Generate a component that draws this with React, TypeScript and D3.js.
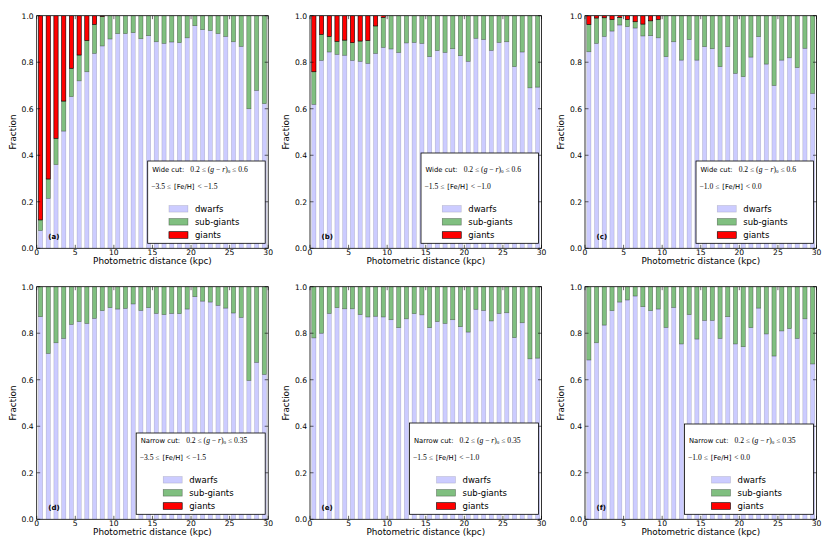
import React from 'react';
import * as d3 from 'd3';

// bin centres (kpc)
const distance = [0.5, 1.5, 2.5, 3.5, 4.5, 5.5, 6.5, 7.5, 8.5, 9.5, 10.5, 11.5, 12.5, 13.5, 14.5, 15.5, 16.5, 17.5, 18.5, 19.5, 20.5, 21.5, 22.5, 23.5, 24.5, 25.5, 26.5, 27.5, 28.5, 29.5];

// (a) wide cut, -3.5 <= [Fe/H] < -1.5
const dwarfsA = [0.076, 0.215, 0.36, 0.504, 0.652, 0.72, 0.759, 0.838, 0.87, 0.9, 0.923, 0.923, 0.927, 0.901, 0.914, 0.888, 0.881, 0.887, 0.884, 0.905, 0.957, 0.94, 0.936, 0.923, 0.911, 0.888, 0.868, 0.6, 0.679, 0.622];
const subGiantsA = [0.046, 0.083, 0.113, 0.129, 0.122, 0.111, 0.134, 0.125, 0.127, 0.1, 0.077, 0.077, 0.073, 0.099, 0.086, 0.112, 0.119, 0.113, 0.116, 0.095, 0.043, 0.06, 0.064, 0.077, 0.089, 0.112, 0.132, 0.4, 0.321, 0.378];
const giantsA = [0.878, 0.702, 0.527, 0.367, 0.226, 0.169, 0.107, 0.037, 0.003, 0, 0, 0, 0, 0, 0, 0, 0, 0, 0, 0, 0, 0, 0, 0, 0, 0, 0, 0, 0, 0];

// (b) wide cut, -1.5 <= [Fe/H] < -1.0
const dwarfsB = [0.619, 0.808, 0.844, 0.834, 0.83, 0.808, 0.804, 0.795, 0.838, 0.864, 0.857, 0.842, 0.883, 0.885, 0.881, 0.824, 0.85, 0.842, 0.858, 0.828, 0.804, 0.903, 0.898, 0.851, 0.885, 0.888, 0.781, 0.844, 0.69, 0.693];
const subGiantsB = [0.14, 0.112, 0.067, 0.056, 0.065, 0.076, 0.087, 0.098, 0.118, 0.129, 0.143, 0.158, 0.117, 0.115, 0.119, 0.176, 0.15, 0.158, 0.142, 0.172, 0.196, 0.097, 0.102, 0.149, 0.115, 0.112, 0.219, 0.156, 0.31, 0.307];
const giantsB = [0.241, 0.08, 0.089, 0.11, 0.105, 0.116, 0.109, 0.107, 0.044, 0.007, 0, 0, 0, 0, 0, 0, 0, 0, 0, 0, 0, 0, 0, 0, 0, 0, 0, 0, 0, 0];

// (c) wide cut, -1.0 <= [Fe/H] < 0.0
const dwarfsC = [0.845, 0.881, 0.911, 0.934, 0.96, 0.953, 0.947, 0.913, 0.914, 0.905, 0.824, 0.888, 0.809, 0.898, 0.809, 0.867, 0.858, 0.781, 0.867, 0.752, 0.738, 0.822, 0.91, 0.792, 0.7, 0.809, 0.819, 0.777, 0.86, 0.666];
const subGiantsC = [0.118, 0.109, 0.08, 0.05, 0.033, 0.031, 0.027, 0.051, 0.064, 0.079, 0.176, 0.112, 0.191, 0.102, 0.191, 0.133, 0.142, 0.219, 0.133, 0.248, 0.262, 0.178, 0.09, 0.208, 0.3, 0.191, 0.181, 0.223, 0.14, 0.334];
const giantsC = [0.037, 0.01, 0.009, 0.016, 0.007, 0.016, 0.026, 0.036, 0.022, 0.016, 0, 0, 0, 0, 0, 0, 0, 0, 0, 0, 0, 0, 0, 0, 0, 0, 0, 0, 0, 0];

// (d) narrow cut, -3.5 <= [Fe/H] < -1.5
const dwarfsD = [0.871, 0.713, 0.759, 0.778, 0.838, 0.85, 0.842, 0.864, 0.897, 0.91, 0.904, 0.907, 0.926, 0.898, 0.91, 0.885, 0.88, 0.885, 0.884, 0.904, 0.957, 0.938, 0.934, 0.92, 0.908, 0.887, 0.868, 0.597, 0.675, 0.623];
const subGiantsD = [0.129, 0.287, 0.241, 0.222, 0.162, 0.15, 0.158, 0.136, 0.103, 0.09, 0.096, 0.093, 0.074, 0.102, 0.09, 0.115, 0.12, 0.115, 0.116, 0.096, 0.043, 0.062, 0.066, 0.08, 0.092, 0.113, 0.132, 0.403, 0.325, 0.377];

// (e) narrow cut, -1.5 <= [Fe/H] < -1.0
const dwarfsE = [0.78, 0.8, 0.885, 0.91, 0.905, 0.905, 0.88, 0.87, 0.873, 0.87, 0.858, 0.824, 0.862, 0.884, 0.879, 0.824, 0.85, 0.842, 0.858, 0.828, 0.805, 0.903, 0.898, 0.853, 0.885, 0.888, 0.781, 0.845, 0.69, 0.693];
const subGiantsE = [0.22, 0.2, 0.115, 0.09, 0.095, 0.095, 0.12, 0.13, 0.127, 0.13, 0.142, 0.176, 0.138, 0.116, 0.121, 0.176, 0.15, 0.158, 0.142, 0.172, 0.195, 0.097, 0.102, 0.147, 0.115, 0.112, 0.219, 0.155, 0.31, 0.307];

// (f) narrow cut, -1.0 <= [Fe/H] < 0.0
const dwarfsF = [0.685, 0.759, 0.835, 0.897, 0.934, 0.943, 0.96, 0.914, 0.897, 0.904, 0.825, 0.911, 0.754, 0.88, 0.775, 0.855, 0.855, 0.778, 0.871, 0.754, 0.742, 0.824, 0.908, 0.797, 0.702, 0.81, 0.82, 0.778, 0.862, 0.668];
const subGiantsF = [0.315, 0.241, 0.165, 0.103, 0.066, 0.057, 0.04, 0.086, 0.103, 0.096, 0.175, 0.089, 0.246, 0.12, 0.225, 0.145, 0.145, 0.222, 0.129, 0.246, 0.258, 0.176, 0.092, 0.203, 0.298, 0.19, 0.18, 0.222, 0.138, 0.332];

const xTicks = [0, 5, 10, 15, 20, 25, 30];
const yTicks = [0, 0.2, 0.4, 0.6, 0.8, 1.0];

const panels = [
  { tag: '(a)', cut: 'Wide', gr: '0.6', lo: '−3.5', hi: '< −1.5', dwarfs: dwarfsA, subGiants: subGiantsA, giants: giantsA, col: 0, row: 0, boxTop: 161 },
  { tag: '(b)', cut: 'Wide', gr: '0.6', lo: '−1.5', hi: '< −1.0', dwarfs: dwarfsB, subGiants: subGiantsB, giants: giantsB, col: 1, row: 0, boxTop: 153 },
  { tag: '(c)', cut: 'Wide', gr: '0.6', lo: '−1.0', hi: '< 0.0', dwarfs: dwarfsC, subGiants: subGiantsC, giants: giantsC, col: 2, row: 0, boxTop: 161 },
  { tag: '(d)', cut: 'Narrow', gr: '0.35', lo: '−3.5', hi: '< −1.5', dwarfs: dwarfsD, subGiants: subGiantsD, giants: null, col: 0, row: 1, boxTop: 433 },
  { tag: '(e)', cut: 'Narrow', gr: '0.35', lo: '−1.5', hi: '< −1.0', dwarfs: dwarfsE, subGiants: subGiantsE, giants: null, col: 1, row: 1, boxTop: 423 },
  { tag: '(f)', cut: 'Narrow', gr: '0.35', lo: '−1.0', hi: '< 0.0', dwarfs: dwarfsF, subGiants: subGiantsF, giants: null, col: 2, row: 1, boxTop: 424 },
];

const colX = [36.7, 310, 585];
const rowY = [15.7, 286.7];
const PW = 231.5;
const PH = 232.6;

const SANS = 'DejaVu Sans';
const SERIF = 'Liberation Serif';

const keys = ['dwarfs', 'subGiants', 'giants'];
const fills: Record<string, string> = { dwarfs: '#ccccff', subGiants: '#80bf80', giants: '#ff0000' };
const strokes: Record<string, string> = { dwarfs: 'rgba(0,0,0,0.18)', subGiants: 'rgba(0,0,0,0.45)', giants: '#000' };
const names: Record<string, string> = { dwarfs: 'dwarfs', subGiants: 'sub-giants', giants: 'giants' };

function Panel({ p, idx }: { p: typeof panels[number]; idx: number }) {
  const x0 = colX[p.col];
  const y0 = rowY[p.row];
  const x = d3.scaleLinear().domain([0, 30]).range([x0, x0 + PW]);
  const y = d3.scaleLinear().domain([0, 1]).range([y0 + PH, y0]);

  const rows = distance.map((d, i) => ({
    distance: d,
    dwarfs: p.dwarfs[i],
    subGiants: p.subGiants[i],
    giants: p.giants ? p.giants[i] : 0,
  }));
  const series = d3.stack<any>().keys(keys)(rows);
  const barW = 0.55;

  const boxW = p.cut === 'Wide' ? 117.5 : 129;
  const boxRight = x0 + PW - 3;
  const boxLeft = boxRight - boxW;
  const boxBottom = y0 + PH - 5;
  const entryLeft = boxLeft + (boxW - 75) / 2;
  const entryY = [boxBottom - 34.5, boxBottom - 21.5, boxBottom - 8.3];

  const clipId = `clip-${idx}`;

  return (
    <g>
      <defs>
        <clipPath id={clipId}>
          <rect x={x0} y={y0} width={PW} height={PH} />
        </clipPath>
      </defs>
      <g clipPath={`url(#${clipId})`}>
        {series.map((s) => (
          <g key={s.key}>
            {s.map((seg, i) =>
              seg[1] - seg[0] > 0 ? (
                <rect
                  key={i}
                  x={x(rows[i].distance - barW / 2)}
                  width={x(barW) - x(0)}
                  y={y(seg[1])}
                  height={y(seg[0]) - y(seg[1])}
                  fill={fills[s.key]}
                  stroke={strokes[s.key]}
                  strokeWidth={0.6}
                />
              ) : null
            )}
          </g>
        ))}
      </g>

      {/* ticks inside on all four sides */}
      {xTicks.map((t) => (
        <g key={`x${t}`}>
          <line x1={x(t)} x2={x(t)} y1={y0 + PH} y2={y0 + PH - 3.5} stroke="#000" strokeWidth={0.6} />
          <line x1={x(t)} x2={x(t)} y1={y0} y2={y0 + 3.5} stroke="#000" strokeWidth={0.6} />
          <text x={x(t)} y={y0 + PH + 6.3} fontSize={7.6} fontFamily={SANS} textAnchor="middle">{t}</text>
        </g>
      ))}
      {yTicks.map((t) => (
        <g key={`y${t}`}>
          <line x1={x0} x2={x0 + 3.5} y1={y(t)} y2={y(t)} stroke="#000" strokeWidth={0.6} />
          <line x1={x0 + PW} x2={x0 + PW - 3.5} y1={y(t)} y2={y(t)} stroke="#000" strokeWidth={0.6} />
          <text x={x0 - 3} y={y(t) + 2.8} fontSize={7.6} fontFamily={SANS} textAnchor="end">{t.toFixed(1)}</text>
        </g>
      ))}
      <rect x={x0} y={y0} width={PW} height={PH} fill="none" stroke="#000" strokeWidth={0.8} />

      <text x={x0 + PW / 2} y={y0 + PH + 16} fontSize={8.8} fontFamily={SANS} textAnchor="middle">Photometric distance (kpc)</text>
      <text transform={`translate(${x0 - 21},${y0 + PH / 2}) rotate(-90)`} fontSize={8.8} fontFamily={SANS} textAnchor="middle">Fraction</text>

      <text x={x(1.5)} y={y(0.042)} fontSize={7} fontWeight="bold" fontFamily={SANS}>{p.tag}</text>

      {/* legend */}
      <rect x={boxLeft} y={p.boxTop} width={boxW} height={boxBottom - p.boxTop} fill="#fff" stroke="#000" strokeWidth={0.8} />
      <text x={boxLeft + 4.5} y={boxBottom - 71.5} fontSize={6.8} fontFamily={SANS}>
        {p.cut} cut:
        <tspan dx={6} fontFamily={SERIF} fontSize={7.6}>
          0.2 ≤ (<tspan fontStyle="italic">g</tspan> − <tspan fontStyle="italic">r</tspan>)
          <tspan fontSize={5} dy={1.5}>0</tspan>
          <tspan dy={-1.5}> ≤ {p.gr}</tspan>
        </tspan>
      </text>
      <text x={boxLeft + 3.5} y={boxBottom - 54.5} fontSize={7.6} fontFamily={SERIF}>
        {p.lo} ≤
        <tspan dx={3} fontFamily={SANS} fontSize={6.8}>[Fe/H]</tspan>
        <tspan dx={3}>{p.hi}</tspan>
      </text>
      {keys.map((k, i) => (
        <g key={k}>
          <rect x={entryLeft} y={entryY[i] - 3.3} width={19} height={6.6} fill={fills[k]} stroke={strokes[k]} strokeWidth={0.6} />
          <text x={entryLeft + 26} y={entryY[i] + 3.1} fontSize={8.5} fontFamily={SANS}>{names[k]}</text>
        </g>
      ))}
    </g>
  );
}

export default function App() {
  return (
    <svg width={830} height={554} style={{ position: 'absolute', left: 0, top: 0, background: '#fff' }}>
      <rect width={830} height={554} fill="#fff" />
      {panels.map((p, i) => (
        <Panel key={p.tag} p={p} idx={i} />
      ))}
    </svg>
  );
}
